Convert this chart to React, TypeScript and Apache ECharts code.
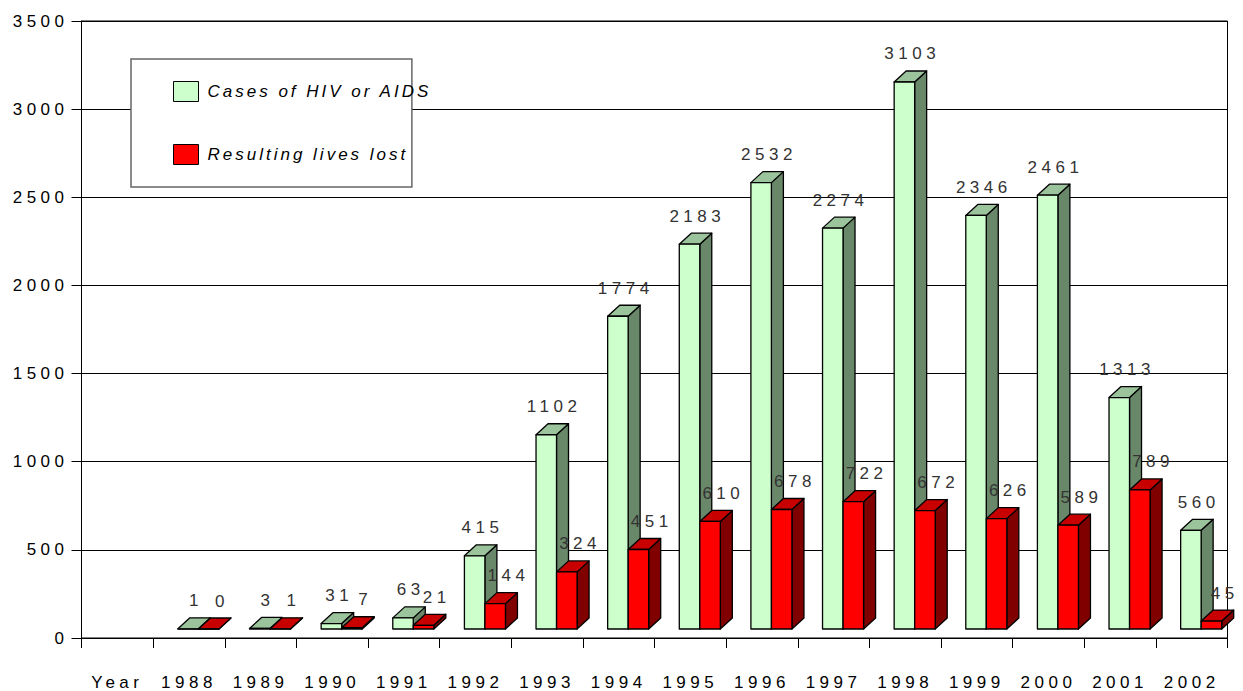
import React, { useEffect, useRef } from "react";
import * as echarts from "echarts";

const years = ["1988", "1989", "1990", "1991", "1992", "1993", "1994", "1995", "1996", "1997", "1998", "1999", "2000", "2001", "2002"];
const axisCategories = ["Year", ...years];
const cases = [1, 3, 31, 63, 415, 1102, 1774, 2183, 2532, 2274, 3103, 2346, 2461, 1313, 560];
const livesLost = [0, 1, 7, 21, 144, 324, 451, 610, 678, 722, 672, 626, 589, 789, 45];
const yTicks = { min: 0, max: 3500, interval: 500 };
const seriesNames = ["Cases of HIV or AIDS", "Resulting lives lost"];

const FONT = "'Liberation Sans', Arial, sans-serif";

const palettes = [
  { front: "#ccffcc", top: "#9cc49c", side: "#698769" },
  { front: "#ff0000", top: "#c80000", side: "#800000" },
];

function makeRenderItem(seriesIdx: number) {
  return (params: any, api: any) => {
    const idx = api.value(0);
    const v = api.value(1);
    const [c, yVal] = api.coord([idx, v]);
    const [, y0] = api.coord([idx, 0]);
    const bw = api.size([1, 0])[0];
    const base = y0 - 9;
    const h = y0 - yVal;
    const top = base - h;
    const w = bw * 0.286;
    const left = seriesIdx === 0 ? c - bw * 0.154 : c + bw * 0.133;
    const dx = 12;
    const dy = 11;
    const p = palettes[seriesIdx];
    const stroke = { stroke: "#000", lineWidth: 1.3, lineJoin: "round" };
    const labelX = seriesIdx === 0 ? c + 7 : c + 33;
    return {
      type: "group",
      children: [
        {
          type: "polygon",
          shape: { points: [[left + w, top], [left + w + dx, top - dy], [left + w + dx, base - dy], [left + w, base]] },
          style: { fill: p.side, ...stroke },
        },
        {
          type: "polygon",
          shape: { points: [[left, top], [left + dx, top - dy], [left + w + dx, top - dy], [left + w, top]] },
          style: { fill: p.top, ...stroke },
        },
        {
          type: "rect",
          shape: { x: left, y: top, width: w, height: h },
          style: { fill: p.front, ...stroke },
        },
        {
          type: "text",
          x: labelX,
          y: top - 28,
          style: {
            text: String(v),
            textAlign: "center",
            textVerticalAlign: "middle",
            fontSize: 17,
            fontFamily: FONT,
            fill: "#333",
          },
        },
      ],
    };
  };
}

export default function App() {
  const ref = useRef<HTMLDivElement>(null);
  useEffect(() => {
    if (!ref.current) return;
    const chart = echarts.init(ref.current, undefined, { renderer: "svg" });
    const seriesData = [cases, livesLost];
    chart.setOption({
      animation: false,
      backgroundColor: "#fff",
      grid: { left: 81.5, right: 15.5, top: 21, bottom: 52, show: true, borderColor: "#000", borderWidth: 1 },
      legend: {
        left: 131,
        top: 59,
        orient: "vertical",
        itemWidth: 25,
        itemHeight: 20,
        itemGap: 42,
        padding: [22, 40, 22, 42],
        backgroundColor: "#fff",
        borderColor: "#666",
        borderWidth: 1.5,
        icon: "rect",
        selectedMode: false,
        itemStyle: { borderColor: "#000", borderWidth: 1 },
        textStyle: { fontStyle: "italic", fontSize: 17, color: "#000", fontFamily: FONT, width: 223, padding: [0, 0, 0, 4] },
        data: seriesNames,
      },
      xAxis: {
        type: "category",
        data: axisCategories,
        boundaryGap: true,
        axisLine: { lineStyle: { color: "#000", width: 1 } },
        axisTick: { show: true, interval: 0, length: 10, lineStyle: { color: "#000" } },
        axisLabel: { interval: 0, margin: 36, fontSize: 17, color: "#000", fontFamily: FONT },
        splitLine: { show: false },
      },
      yAxis: {
        type: "value",
        min: yTicks.min,
        max: yTicks.max,
        interval: yTicks.interval,
        axisLine: { show: true, lineStyle: { color: "#000", width: 1 } },
        axisTick: { show: true, length: 10, lineStyle: { color: "#000" } },
        axisLabel: { margin: 13, fontSize: 17, color: "#000", fontFamily: FONT, formatter: (v: number) => String(v) },
        splitLine: { show: true, lineStyle: { color: "#000", width: 1 } },
      },
      series: seriesNames.map((name, si) => ({
        type: "custom",
        name,
        renderItem: makeRenderItem(si),
        encode: { x: 0, y: 1 },
        clip: false,
        itemStyle: { color: palettes[si].front },
        data: seriesData[si].map((v, i) => [i + 1, v]),
        z: 2 + si,
      })),
    });
    return () => chart.dispose();
  }, []);
  return (
    <>
      <style>{`
        #chart svg text { letter-spacing: 4.5px; }
        #chart svg text[style*="italic"] { letter-spacing: 3px; }
      `}</style>
      <div id="chart" ref={ref} style={{ position: "absolute", left: 0, top: 0, width: 1243, height: 691 }} />
    </>
  );
}
